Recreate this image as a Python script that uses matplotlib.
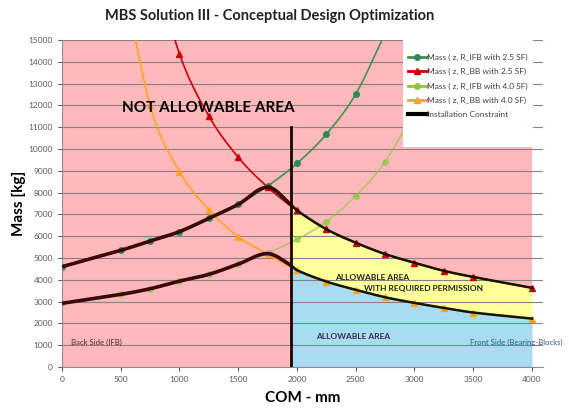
import matplotlib
matplotlib.use('Agg')
import matplotlib.pyplot as plt
from matplotlib.lines import Line2D
from matplotlib.patches import Rectangle
import numpy as np

plt.rcParams['font.family'] = ['Lato', 'DejaVu Sans']

# design points (COM in mm, mass in kg)
com_ifb_25 = [0, 500, 750, 1000, 1250, 1500, 1750, 2000, 2250, 2500, 2750]
mass_ifb_25 = [4600, 5350, 5780, 6210, 6820, 7460, 8300, 9340, 10680, 12520, 15300]

com_bb_25 = [750, 1000, 1250, 1500, 1750, 2000, 2250, 2500, 2750, 3000, 3250, 3500, 4000]
mass_bb_25 = [19200, 14360, 11510, 9620, 8250, 7180, 6320, 5700, 5180, 4780, 4410, 4130, 3630]

com_ifb_40 = [0, 500, 750, 1000, 1250, 1500, 1750, 2000, 2250, 2500, 2750, 3000, 3250]
mass_ifb_40 = [2920, 3330, 3590, 3940, 4250, 4720, 5230, 5850, 6670, 7850, 9420, 11900, 15700]

com_bb_40 = [500, 750, 1000, 1250, 1500, 1750, 2000, 2250, 2500, 2750, 3000, 3250, 3500, 4000]
mass_bb_40 = [18500, 12000, 8960, 7210, 5980, 5180, 4440, 3920, 3540, 3200, 2940, 2710, 2500, 2220]

# allowable envelopes (lower of IFB / BB requirement)
com_env = [0, 500, 750, 1000, 1250, 1500, 1750, 1950, 2000, 2250, 2500, 2750, 3000, 3250, 3500, 4000]
env_25 = [4600, 5350, 5780, 6210, 6820, 7460, 8250, 7440, 7180, 6320, 5700, 5180, 4780, 4410, 4130, 3630]
env_40 = [2920, 3330, 3590, 3940, 4250, 4720, 5200, 4660, 4440, 3920, 3540, 3200, 2940, 2710, 2500, 2220]

constraint_com = 1950
constraint_top = 11000
area_com = [0, 4000]
y_max = 15000


def smooth(x, y, n=24):
    # excel-like smoothed line: cubic hermite with catmull-rom slopes
    x = np.asarray(x, float)
    y = np.asarray(y, float)
    m = np.empty_like(y)
    m[1:-1] = (y[2:] - y[:-2]) / (x[2:] - x[:-2])
    m[0] = (y[1] - y[0]) / (x[1] - x[0])
    m[-1] = (y[-1] - y[-2]) / (x[-1] - x[-2])
    xs, ys = [], []
    t = np.linspace(0, 1, n, endpoint=False)
    h00 = 2 * t**3 - 3 * t**2 + 1
    h10 = t**3 - 2 * t**2 + t
    h01 = -2 * t**3 + 3 * t**2
    h11 = t**3 - t**2
    for i in range(len(x) - 1):
        h = x[i + 1] - x[i]
        xs.append(x[i] + t * h)
        ys.append(h00 * y[i] + h10 * h * m[i] + h01 * y[i + 1] + h11 * h * m[i + 1])
    xs.append([x[-1]])
    ys.append([y[-1]])
    return np.concatenate(xs), np.concatenate(ys)


fig = plt.figure(figsize=(5.69, 4.08), dpi=100)
ax = fig.add_axes([62 / 569, 41 / 408, 481 / 569, 327 / 408])

pink = '#ffb9bd'
yellow = '#ffff99'
blue = '#a9dcf3'

# regions
ax.fill_between(area_com, 0, y_max, color=pink, lw=0, zorder=0.5)
ex, e25 = smooth(com_env, env_25)
_, e40 = smooth(com_env, env_40)
right = ex >= constraint_com
left = ex <= constraint_com
ax.fill_between(ex[right], e40[right], e25[right], color=yellow, lw=0, zorder=0.6)
ax.fill_between(ex[right], 0, e40[right], color=blue, lw=0, zorder=0.6)

# series
series = [
    (com_ifb_25, mass_ifb_25, '#43904f', '#2a8a5a', 'o', 1.0, 'Mass ( z, R_IFB with 2.5 SF)'),
    (com_bb_25, mass_bb_25, '#cc0000', '#cc0000', '^', 1.0, 'Mass ( z, R_BB with 2.5 SF)'),
    (com_ifb_40, mass_ifb_40, '#8cc63f', '#8cc63f', 'o', 0.65, 'Mass ( z, R_IFB with 4.0 SF)'),
    (com_bb_40, mass_bb_40, '#ffa31a', '#ffa31a', '^', 1.0, 'Mass ( z, R_BB with 4.0 SF)'),
]
handles = []
for cx, my, lc, mc, mk, al, lab in series:
    sx, sy = smooth(cx, my)
    ax.plot(sx, sy, color=lc, lw=1.2, alpha=al, zorder=2)
    ax.plot(cx, my, ls='none', marker=mk, ms=4, color=mc, mec=mc, alpha=al, zorder=2.1)
    handles.append(Line2D([], [], color=lc, lw=2, marker=mk, ms=4, mfc=mc, mec=mc, label=lab))

# envelopes
for ey in (e25, e40):
    ax.plot(ex[left], ey[left], color='#3a0a0a', lw=2.6, zorder=3, solid_capstyle='butt')
    ax.plot(ex[right], ey[right], color='#141400', lw=1.8, zorder=3)

ax.plot([constraint_com, constraint_com], [0, constraint_top], color='#1a0505', lw=2, zorder=3.2)
handles.append(Line2D([], [], color='black', lw=3, label='Installation Constraint'))

# legend box
ax.add_patch(Rectangle((0.709, 0.673), 0.27, 0.327, transform=ax.transAxes,
                       facecolor='white', edgecolor='none', zorder=4))
leg = ax.legend(handles=handles, loc='upper left', bbox_to_anchor=(0.72, 0.957),
                frameon=False, fontsize=6, handlelength=2.2, handletextpad=0.05,
                labelspacing=0.85, borderaxespad=0, borderpad=0)
leg.set_zorder(5)
for t in leg.get_texts():
    t.set_color('#404040')

# text
ax.text(510, 11880, 'NOT ALLOWABLE AREA', fontsize=11, fontweight='bold', va='center', zorder=6)
ax.text(2320, 4120, 'ALLOWABLE AREA', fontsize=6, fontweight='bold', color='#222222', va='center', zorder=6)
ax.text(2570, 3600, 'WITH REQUIRED PERMISSION', fontsize=6, fontweight='bold', color='#222222', va='center', zorder=6)
ax.text(2160, 1420, 'ALLOWABLE AREA', fontsize=6, fontweight='bold', color='#333344', va='center', zorder=6)
ax.text(75, 1120, 'Back Side (IFB)', fontsize=5.6, color='#5a2020', va='center', zorder=6)
ax.text(3470, 1120, 'Front Side (Bearing-Blocks)', fontsize=5.6, color='#2a5a80', va='center', zorder=6, clip_on=False)

# axes
ax.set_xlim(0, 4094)
ax.set_ylim(0, y_max)
ax.set_xticks(range(0, 4001, 500))
ax.set_yticks(range(0, 15001, 1000))
ax.yaxis.grid(True, color='#8c8080', lw=0.8)
ax.tick_params(labelsize=6, colors='#595959', length=3, width=0.8)
for s in ('top', 'right'):
    ax.spines[s].set_visible(False)
for s in ('left', 'bottom'):
    ax.spines[s].set_color('#8c8c8c')
    ax.spines[s].set_linewidth(0.8)

ax.set_xlabel('COM - mm', fontsize=11, fontweight='bold', labelpad=6)
ax.set_ylabel('Mass [kg]', fontsize=11, fontweight='bold', labelpad=2)
fig.text(0.473, 0.962, 'MBS Solution III - Conceptual Design Optimization',
         fontsize=10.5, fontweight='bold', ha='center', va='center', color='#222222')

fig.savefig('out.png', dpi=100)
